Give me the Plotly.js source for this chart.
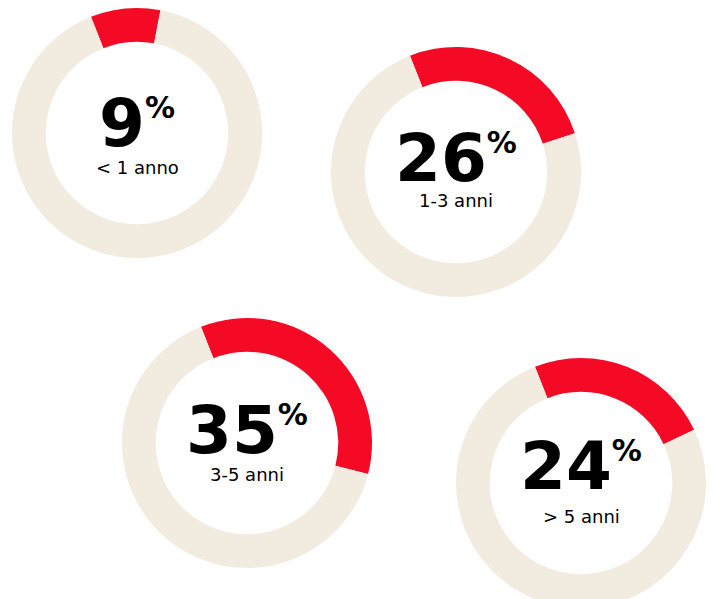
<!DOCTYPE html>
<html>
<head>
<meta charset="utf-8">
<script src="https://cdn.plot.ly/plotly-3.0.1.min.js"></script>
<style>
html, body { margin: 0; padding: 0; background: #ffffff; overflow: hidden; }
#chart { width: 715px; height: 620px; }
</style>
</head>
<body>
<div id="chart"></div>
<script>
// ---- data ----
const categories = ['< 1 anno', '1-3 anni', '3-5 anni', '> 5 anni'];
const shares = [9, 26, 35, 24];
const remainder = [91, 74, 65, 76];

// ---- layout helpers (pixel geometry of each donut and its texts) ----
const W = 715, H = 620;
const centers = [[137, 133], [456, 172], [247, 443], [581, 483]];
const numberBaselines = [145, 180, 452, 488];
const labelBaselines = [175, 208, 482, 524];
const R = 125;
const RED = '#F50A25';
const BEIGE = '#F2EBDF';
const NUM_SIZE = 66, PCT_SIZE = 30, LAB_SIZE = 18;
const ASC = 0.928, DESC = 0.236; // DejaVu Sans font metrics

const traces = [];
const annotations = [];
categories.forEach((cat, i) => {
  const [cx, cy] = centers[i];
  traces.push({
    type: 'pie',
    values: [shares[i], remainder[i]],
    labels: [cat, 'altro'],
    sort: false,
    direction: 'clockwise',
    rotation: -21.6,
    hole: 0.73,
    textinfo: 'none',
    hoverinfo: 'none',
    showlegend: false,
    marker: { colors: [RED, BEIGE], line: { width: 0 } },
    domain: { x: [(cx - R) / W, (cx + R) / W], y: [1 - (cy + R) / H, 1 - (cy - R) / H] }
  });
  annotations.push({
    xref: 'paper', yref: 'paper', x: cx / W, y: 1 - (numberBaselines[i] - ASC * NUM_SIZE - 1) / H,
    xanchor: 'center', yanchor: 'top', valign: 'top', showarrow: false,
    height: Math.round(ASC * NUM_SIZE + 3),
    text: '<b>' + shares[i] + '<sup><span style="font-size:' + PCT_SIZE + 'px">%</span></sup></b>',
    font: { family: 'DejaVu Sans, sans-serif', size: NUM_SIZE, color: '#000000' }
  });
  annotations.push({
    xref: 'paper', yref: 'paper', x: cx / W, y: 1 - (labelBaselines[i] + DESC * LAB_SIZE + 1) / H,
    xanchor: 'center', yanchor: 'bottom', showarrow: false,
    text: cat,
    font: { family: 'DejaVu Sans, sans-serif', size: LAB_SIZE, color: '#000000' }
  });
});

const layout = {
  width: W, height: H,
  margin: { l: 0, r: 0, t: 0, b: 0 },
  paper_bgcolor: '#ffffff',
  plot_bgcolor: '#ffffff',
  annotations: annotations
};

Plotly.newPlot('chart', traces, layout, { displayModeBar: false, staticPlot: true });
</script>
</body>
</html>
